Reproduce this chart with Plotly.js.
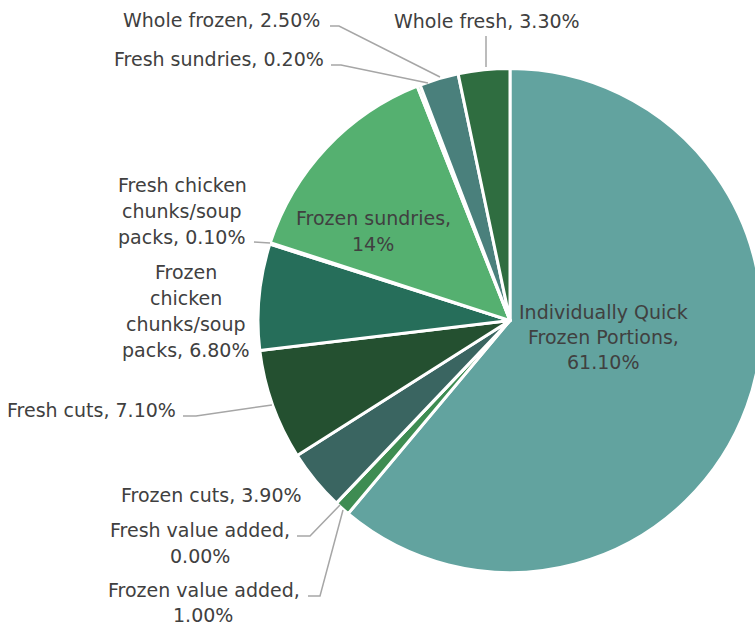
<!DOCTYPE html>
<html><head><meta charset="utf-8">
<script src="https://cdn.plot.ly/plotly-3.0.1.min.js"></script>
<style>html,body{margin:0;padding:0;overflow:hidden;background:#fff;width:755px;height:630px}</style>
</head><body>
<div id="chart" style="width:770px;height:630px"></div>
<script>
// Data
const categories = [
  "Individually Quick Frozen Portions",
  "Frozen value added",
  "Fresh value added",
  "Frozen cuts",
  "Fresh cuts",
  "Frozen chicken chunks/soup packs",
  "Fresh chicken chunks/soup packs",
  "Frozen sundries",
  "Fresh sundries",
  "Whole frozen",
  "Whole fresh"
];
const shares = [61.1, 1.0, 0.0, 3.9, 7.1, 6.8, 0.1, 14, 0.2, 2.5, 3.3];
const shareLabels = ["61.10%", "1.00%", "0.00%", "3.90%", "7.10%", "6.80%", "0.10%", "14%", "0.20%", "2.50%", "3.30%"];
const sliceColors = ["#62a39f", "#3e8c52", "#5a9a8a", "#3a6561", "#245030", "#266e5a", "#3f8a66", "#55b070", "#7dbf92", "#4a807c", "#2f6d40"];

const W = 770, H = 630;
const px = x => x / W, py = y => 1 - y / H;
const font = {family: "'DejaVu Sans', sans-serif", size: 19, color: "#404040"};

// label layout: each line of text with pixel position
const labelSpec = [
  {lines: ["Individually Quick", "Frozen Portions,", shareLabels[0]], x: 603, ys: [312, 337, 362], xa: "center"},
  {lines: ["Frozen value added,"], x: 302, ys: [590], xa: "right"},
  {lines: [shareLabels[1]], x: 203, ys: [615], xa: "center"},
  {lines: ["Fresh value added,"], x: 292, ys: [530], xa: "right"},
  {lines: [shareLabels[2]], x: 200, ys: [556], xa: "center"},
  {lines: ["Frozen cuts, " + shareLabels[3]], x: 304, ys: [495], xa: "right"},
  {lines: ["Fresh cuts, " + shareLabels[4]], x: 178, ys: [410], xa: "right"},
  {lines: ["Frozen", "chicken", "chunks/soup", "packs, " + shareLabels[5]], x: 186, ys: [272, 298, 324, 350], xa: "center"},
  {lines: ["Fresh chicken", "chunks/soup", "packs, " + shareLabels[6]], x: 182, ys: [185, 211, 237], xa: "center"},
  {lines: ["Frozen sundries,", shareLabels[7]], x: 373, ys: [218, 244], xa: "center"},
  {lines: ["Fresh sundries, " + shareLabels[8]], x: 326, ys: [59], xa: "right"},
  {lines: ["Whole frozen, " + shareLabels[9]], x: 322, ys: [20], xa: "right"},
  {lines: ["Whole fresh, " + shareLabels[10]], x: 582, ys: [21], xa: "right"}
];

const annotations = [];
labelSpec.forEach(s => s.lines.forEach((t, k) => annotations.push({
  text: t, x: px(s.x), y: py(s.ys[k]), xref: "paper", yref: "paper",
  xanchor: s.xa, yanchor: "middle", align: "center",
  showarrow: false, font: font
})));

// leader lines (pixel paths)
const leaderPaths = [
  [[486, 36], [486, 67]],
  [[330, 26], [339, 26], [440, 77]],
  [[331, 65], [341, 65], [428, 83]],
  [[254, 242], [270, 243]],
  [[183, 416], [196, 416], [272, 405]],
  [[297, 536], [310, 536], [340, 505]],
  [[308, 596], [320, 596], [343, 510]]
];
const shapes = leaderPaths.map(pts => ({
  type: "path", xref: "paper", yref: "paper",
  path: pts.map((p, k) => (k ? "L" : "M") + px(p[0]) + "," + py(p[1])).join(" "),
  line: {color: "#a6a6a6", width: 1.5}
}));

const trace = {
  type: "pie",
  labels: categories,
  values: shares,
  sort: false,
  direction: "clockwise",
  rotation: 0,
  textinfo: "none",
  hoverinfo: "label+percent",
  marker: {colors: sliceColors, line: {color: "#ffffff", width: 3}},
  domain: {x: [258 / W, 762 / W], y: [(H - 572.5) / H, (H - 68.5) / H]},
  showlegend: false
};

Plotly.newPlot("chart", [trace], {
  width: W, height: H,
  margin: {l: 0, r: 0, t: 0, b: 0},
  paper_bgcolor: "#ffffff",
  showlegend: false,
  annotations: annotations,
  shapes: shapes
}, {displayModeBar: false, staticPlot: true});
</script>
</body></html>
